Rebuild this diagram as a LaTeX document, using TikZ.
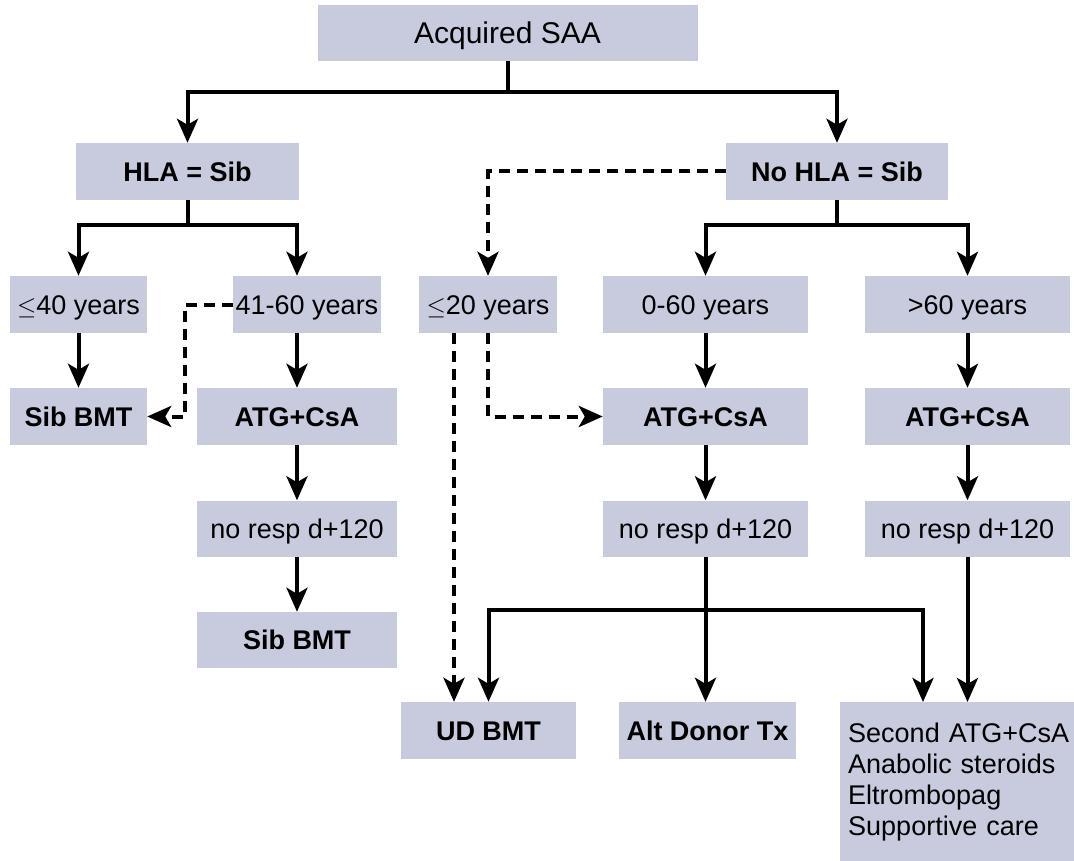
\documentclass[tikz,border=0pt]{standalone}
\usepackage{fontspec}
\setmainfont{Liberation Sans}
\usetikzlibrary{arrows.meta}
\definecolor{boxc}{RGB}{200,202,222}
\begin{document}
\begin{tikzpicture}[x=1pt,y=-1pt,
  box/.style={fill=boxc, draw=none, inner sep=0pt, minimum height=57pt,
    font=\fontsize{27}{31}\selectfont, text height=19.5pt, text depth=0pt},
  bbox/.style={box, font=\fontsize{27}{31}\selectfont\bfseries},
  ln/.style={line width=4pt},
  arr/.style={ln, -{Stealth[length=24pt,width=21pt,inset=6pt]}},
  darr/.style={arr, dash pattern=on 11pt off 7pt}]
\useasboundingbox (0,0) rectangle (1074,861);
\fill[white] (0,0) rectangle (1074,861);

% nodes
\node[box, minimum width=380pt, minimum height=56pt, font=\fontsize{30}{34}\selectfont, text height=21.5pt] (A) at (507.5,33) {Acquired SAA};
\node[bbox, minimum width=223pt] (HLA) at (187.5,171.5) {HLA = Sib};
\node[bbox, minimum width=222pt] (NoHLA) at (837,171.5) {No HLA = Sib};

\node[box, minimum width=137pt] (L40) at (78.5,304.5) {$\le$40 years};
\node[box, minimum width=148pt] (L4160) at (307,304.5) {41-60 years};
\node[box, minimum width=138pt] (L20) at (488,304.5) {$\le$20 years};
\node[box, minimum width=205pt] (L060) at (705.5,304.5) {0-60 years};
\node[box, minimum width=205pt] (L60) at (967.5,304.5) {>60 years};

\node[bbox, minimum width=137pt] (SibL) at (78.5,416.5) {Sib BMT};
\node[bbox, minimum width=200pt] (ATGL) at (297,416.5) {ATG+CsA};
\node[bbox, minimum width=205pt] (ATGM) at (705.5,416.5) {ATG+CsA};
\node[bbox, minimum width=205pt] (ATGR) at (967.5,416.5) {ATG+CsA};

\node[box, minimum width=200pt, minimum height=56pt] (NRL) at (297,528.5) {no resp d+120};
\node[box, minimum width=205pt, minimum height=56pt] (NRM) at (705.5,528.5) {no resp d+120};
\node[box, minimum width=205pt, minimum height=56pt] (NRR) at (967.5,528.5) {no resp d+120};

\node[bbox, minimum width=200pt, minimum height=56pt] (Sib2) at (297,640) {Sib BMT};

\node[bbox, minimum width=175pt] (UD) at (488.5,730.5) {UD BMT};
\node[bbox, minimum width=177pt] (Alt) at (707.5,730.5) {Alt Donor Tx};
\node[fill=boxc, inner xsep=8pt, inner ysep=0pt, anchor=north west,
  minimum width=240pt, minimum height=159pt, text width=228pt, align=left,
  font=\fontsize{27}{31}\selectfont] (Last) at (840,702)
  {Second ATG+CsA\\Anabolic steroids\\Eltrombopag\\Supportive care};

% junctions
\coordinate (j0) at (A.south |- 0,92);
\coordinate (j1) at (HLA.south |- 0,225);
\coordinate (j2) at (NoHLA.south |- 0,225);
\coordinate (j3) at (NRM.south |- 0,610);

% solid connectors
\draw[ln] (A.south) -- (j0);
\draw[arr] (j0) -| (HLA.north);
\draw[arr] (j0) -| (NoHLA.north);

\draw[ln] (HLA.south) -- (j1);
\draw[arr] (j1) -| (L40.north);
\draw[arr] (j1) -| (L4160.north -| ATGL.north);

\draw[ln] (NoHLA.south) -- (j2);
\draw[arr] (j2) -| (L060.north);
\draw[arr] (j2) -| (L60.north);

\draw[arr] (L40.south) -- (SibL.north);
\draw[arr] (L4160.south -| ATGL.north) -- (ATGL.north);
\draw[arr] (ATGL.south) -- (NRL.north);
\draw[arr] (NRL.south) -- (Sib2.north);

\draw[arr] (L060.south) -- (ATGM.north);
\draw[arr] (ATGM.south) -- (NRM.north);
\draw[arr] (L60.south) -- (ATGR.north);
\draw[arr] (ATGR.south) -- (NRR.north);

\draw[arr] (NRM.south) -- (NRM.south |- Alt.north);
\draw[arr] (j3) -| (UD.north);
\draw[arr] (j3) -| ([xshift=83pt]Last.north west);
\draw[arr] (NRR.south) -- (NRR.south |- Last.north);

% dashed connectors
\draw[darr] (L4160.west) -- ++(-48,0) |- (SibL.east);
\draw[darr] (NoHLA.west) -| (L20.north);
\draw[darr] (L20.south) |- (ATGM.west);
\draw[darr] ([xshift=-34pt]L20.south) -- ([xshift=-34pt]L20.south |- UD.north);
\end{tikzpicture}
\end{document}
